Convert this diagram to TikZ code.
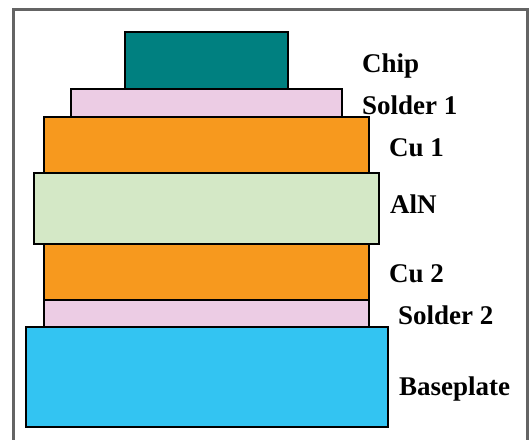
\documentclass[tikz,border=0pt]{standalone}
\usepackage{fontspec}
\setmainfont{Liberation Serif}
\usetikzlibrary{positioning}

\definecolor{chipteal}{RGB}{0,128,128}
\definecolor{solderpink}{RGB}{236,204,228}
\definecolor{copper}{RGB}{247,153,30}
\definecolor{alngreen}{RGB}{212,232,198}
\definecolor{baseblue}{RGB}{51,196,242}
\definecolor{framegray}{RGB}{100,100,100}

\begin{document}
\begin{tikzpicture}[x=1pt, y=-1pt,
    layer/.style={draw=black, line width=1.1pt},
    lbl/.style={anchor=base west, inner sep=0pt, font=\fontsize{27}{31}\selectfont\bfseries}]
                \useasboundingbox (0,0) rectangle (532,439);
                % Rahmen
                \draw[framegray, line width=2.2pt] (13.5,441) -- (13.5,9.5) -- (527.5,9.5) -- (527.5,441);
                % Schichten
                \draw[layer, fill=baseblue] (26,327) rectangle (388,427);
                \draw[layer, fill=solderpink] (44,300) rectangle (369,327);
                \draw[layer, fill=copper] (44,244) rectangle (369,300);
                \draw[layer, fill=alngreen] (34,173) rectangle (379,244);
                \draw[layer, fill=copper] (44,117) rectangle (369,173);
                \draw[layer, fill=solderpink] (71,89) rectangle (342,117);
                \draw[layer, fill=chipteal] (125,32) rectangle (288,89);
                % Beschriftung
                \node[lbl] (chip) at (362,72) {Chip};
                \node[lbl] (solderA) at (362,114) {Solder 1};
                \node[lbl] (cuA) at (389,156) {Cu 1};
                \node[lbl] (aln) at (390,213) {AlN};
                \node[lbl] (cuB) at (389,282) {Cu 2};
                \node[lbl] (solderB) at (398,324) {Solder 2};
                \node[lbl] (base) at (399,395) {Baseplate};
            \end{tikzpicture}
\end{document}
